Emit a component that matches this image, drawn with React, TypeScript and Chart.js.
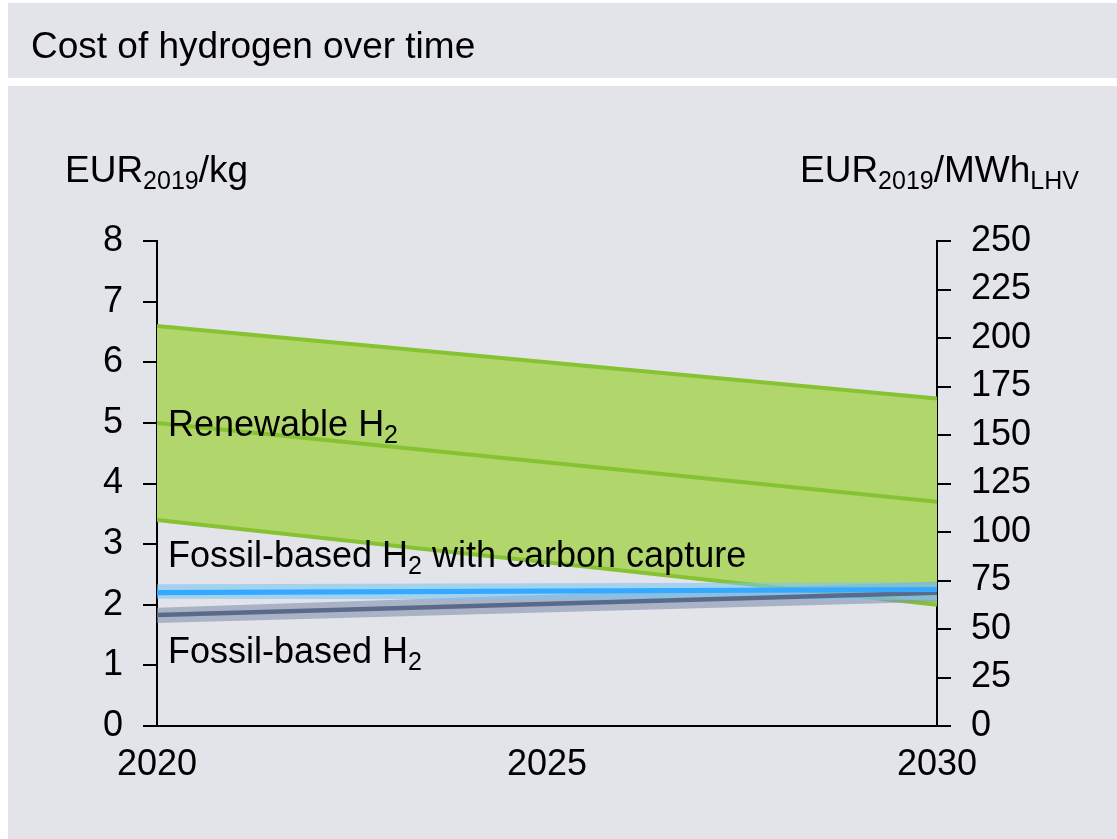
import React, { useEffect, useRef } from 'react';
import { Chart, registerables } from 'chart.js';

Chart.register(...registerables);

// ---- data ----
const years = [2020, 2030];
const renewableHigh = [6.6, 5.4];
const renewableMid = [5.0, 3.7];
const renewableLow = [3.4, 2.0];
const ccsCentral = [2.2, 2.25];
const ccsLow = [2.1, 2.08];
const ccsHigh = [2.34, 2.37];
const fossilCentral = [1.83, 2.2];
const fossilLow = [1.7, 2.05];
const fossilHigh = [1.95, 2.38];

const xMin = 2020;
const xMax = 2030;
const xStep = 5;
const leftMax = 8;
const leftStep = 1;
const rightMax = 250;
const rightStep = 25;

const titleText = 'Cost of hydrogen over time';
const leftUnit = ['EUR', '2019', '/kg'];
const rightUnit = ['EUR', '2019', '/MWh', 'LHV'];
const seriesLabels = [
  { parts: ['Renewable H', '2', ''], y: 4.785 },
  { parts: ['Fossil-based H', '2', ' with carbon capture'], y: 2.62 },
  { parts: ['Fossil-based H', '2', ''], y: 1.04 },
];

const FONT = '"Liberation Sans", Arial, Helvetica, sans-serif';
const BG = '#e3e4e9';
const GREEN_FILL = '#b1d66c';
const GREEN_LINE = '#86c232';
const BLUE_LINE = '#33aaff';
const BLUE_BAND = 'rgba(120,198,245,0.6)';
const GREY_LINE = '#5a6a8a';
const GREY_BAND = 'rgba(132,146,175,0.6)';

const pts = (vals: number[]) => vals.map((v, i) => ({ x: years[i], y: v }));

const decorPlugin = {
  id: 'decor',
  beforeDraw(chart: any) {
    const ctx = chart.ctx;
    ctx.save();
    ctx.fillStyle = '#ffffff';
    ctx.fillRect(0, 0, chart.width, chart.height);
    ctx.fillStyle = BG;
    ctx.fillRect(8, 3, chart.width - 8, 75);
    ctx.fillRect(8, 86, chart.width - 8, chart.height - 86);
    ctx.fillStyle = '#000';
    ctx.textBaseline = 'alphabetic';
    ctx.textAlign = 'left';
    ctx.font = `37px ${FONT}`;
    ctx.fillText(titleText, 31, 58);

    const drawParts = (x: number, y: number, parts: string[], subFlags: boolean[]) => {
      let cx = x;
      parts.forEach((p, i) => {
        if (subFlags[i]) {
          ctx.font = `25px ${FONT}`;
          ctx.fillText(p, cx, y + 7);
        } else {
          ctx.font = `37px ${FONT}`;
          ctx.fillText(p, cx, y);
        }
        cx += ctx.measureText(p).width;
      });
    };
    drawParts(65, 182, leftUnit, [false, true, false]);
    drawParts(800, 182, rightUnit, [false, true, false, true]);
    ctx.restore();
  },
  afterDatasetsDraw(chart: any) {
    const ctx = chart.ctx;
    const xs = chart.scales.x;
    const ys = chart.scales.y;
    ctx.save();
    ctx.fillStyle = '#000';
    ctx.textBaseline = 'alphabetic';
    ctx.textAlign = 'left';
    seriesLabels.forEach((lab) => {
      let cx = xs.getPixelForValue(xMin) + 11;
      const by = ys.getPixelForValue(lab.y);
      lab.parts.forEach((p, i) => {
        if (i === 1) {
          ctx.font = `25px ${FONT}`;
          ctx.fillText(p, cx, by + 7);
        } else {
          ctx.font = `36px ${FONT}`;
          ctx.fillText(p, cx, by);
        }
        cx += ctx.measureText(p).width;
      });
    });
    ctx.restore();
  },
};

export default function App() {
  const ref = useRef<HTMLCanvasElement | null>(null);

  useEffect(() => {
    if (!ref.current) return;
    const lineBase = { pointRadius: 0, pointHoverRadius: 0, tension: 0, yAxisID: 'y' };
    const chart = new Chart(ref.current, {
      type: 'line',
      data: {
        datasets: [
          { ...lineBase, label: 'Renewable high', data: pts(renewableHigh), borderColor: GREEN_LINE, borderWidth: 4, backgroundColor: GREEN_FILL, fill: '+1', order: 10 },
          { ...lineBase, label: 'Renewable low', data: pts(renewableLow), borderColor: GREEN_LINE, borderWidth: 4, fill: false, order: 9 },
          { ...lineBase, label: 'Renewable mid', data: pts(renewableMid), borderColor: GREEN_LINE, borderWidth: 4, fill: false, order: 8 },
          { ...lineBase, label: 'Fossil low', data: pts(fossilLow), borderWidth: 0, borderColor: 'rgba(0,0,0,0)', fill: false, order: 7 },
          { ...lineBase, label: 'Fossil high', data: pts(fossilHigh), borderWidth: 0, borderColor: 'rgba(0,0,0,0)', backgroundColor: GREY_BAND, fill: '-1', order: 6 },
          { ...lineBase, label: 'CCS low', data: pts(ccsLow), borderWidth: 0, borderColor: 'rgba(0,0,0,0)', fill: false, order: 5 },
          { ...lineBase, label: 'CCS high', data: pts(ccsHigh), borderWidth: 0, borderColor: 'rgba(0,0,0,0)', backgroundColor: BLUE_BAND, fill: '-1', order: 4 },
          { ...lineBase, label: 'Fossil-based H2', data: pts(fossilCentral), borderColor: GREY_LINE, borderWidth: 4.5, fill: false, order: 2 },
          { ...lineBase, label: 'Fossil-based H2 with carbon capture', data: pts(ccsCentral), borderColor: BLUE_LINE, borderWidth: 5, fill: false, order: 1 },
        ],
      },
      options: {
        responsive: false,
        animation: false,
        layout: { padding: { top: 241, left: 0, right: 0, bottom: 0 } },
        plugins: {
          legend: { display: false },
          tooltip: { enabled: false },
          title: { display: false },
        },
        scales: {
          x: {
            type: 'linear',
            min: xMin,
            max: xMax,
            afterFit: (s: any) => { s.height = 113; },
            ticks: { stepSize: xStep, color: '#000', font: { family: FONT, size: 36 }, padding: 17, maxRotation: 0, callback: (v: any) => String(v) },
            grid: { display: false, drawTicks: false },
            border: { display: true, color: '#000', width: 2 },
          },
          y: {
            position: 'left',
            min: 0,
            max: leftMax,
            afterFit: (s: any) => { s.width = 157; },
            ticks: { stepSize: leftStep, color: '#000', font: { family: FONT, size: 36 }, padding: 20 },
            grid: { display: true, drawOnChartArea: false, drawTicks: true, tickLength: 14, color: '#000', lineWidth: 2 },
            border: { display: true, color: '#000', width: 2 },
          },
          y2: {
            position: 'right',
            min: 0,
            max: rightMax,
            afterFit: (s: any) => { s.width = 180; },
            ticks: { stepSize: rightStep, color: '#000', font: { family: FONT, size: 36 }, padding: 20 },
            grid: { display: true, drawOnChartArea: false, drawTicks: true, tickLength: 14, color: '#000', lineWidth: 2 },
            border: { display: true, color: '#000', width: 2 },
          },
        },
      },
      plugins: [decorPlugin],
    } as any);
    return () => chart.destroy();
  }, []);

  return (
    <div style={{ position: 'absolute', left: 0, top: 0, width: 1117, height: 839, background: '#fff' }}>
      <canvas ref={ref} width={1117} height={839} style={{ display: 'block', width: 1117, height: 839 }} />
    </div>
  );
}
